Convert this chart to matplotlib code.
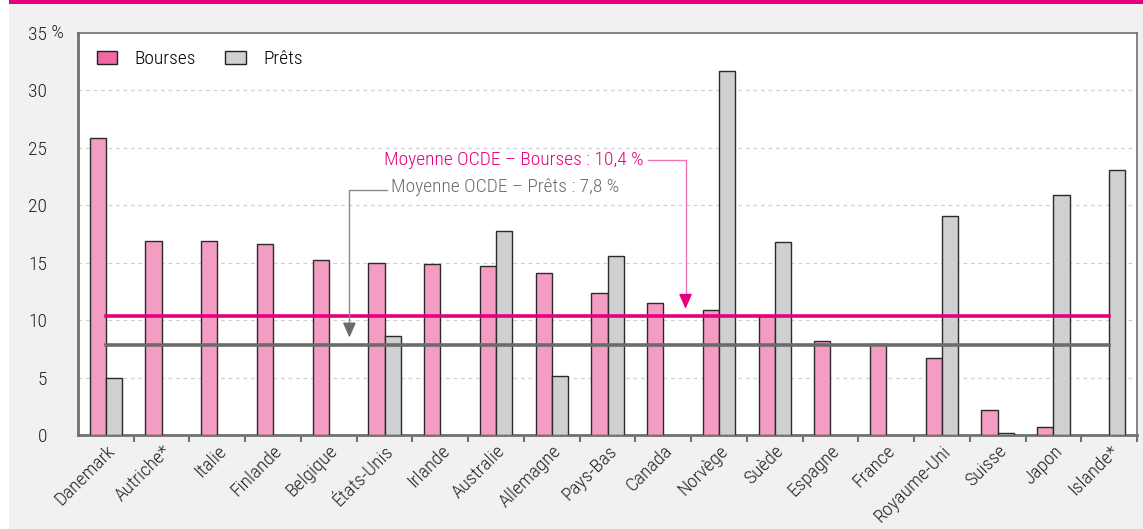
import numpy as np
import matplotlib.pyplot as plt
from matplotlib.patches import Rectangle, Patch

plt.rcParams['font.family'] = ['Roboto Condensed', 'Liberation Sans Narrow', 'Liberation Sans', 'DejaVu Sans']
plt.rcParams['font.weight'] = 'light'

pays = ['Danemark', 'Autriche*', 'Italie', 'Finlande', 'Belgique', 'États-Unis',
        'Irlande', 'Australie', 'Allemagne', 'Pays-Bas', 'Canada', 'Norvège',
        'Suède', 'Espagne', 'France', 'Royaume-Uni', 'Suisse', 'Japon', 'Islande*']
bourses = [25.9, 16.9, 16.9, 16.6, 15.2, 15.0, 14.9, 14.7, 14.1, 12.4, 11.5, 10.9,
           10.4, 8.2, 7.9, 6.7, 2.2, 0.7, np.nan]
prets = [5.0, np.nan, np.nan, np.nan, np.nan, 8.6, np.nan, 17.8, 5.1, 15.6, np.nan, 31.7,
         16.8, np.nan, np.nan, 19.1, 0.2, 20.9, 23.1]
moy_bourses = 10.4
moy_prets = 7.8

ROSE = '#f29dc1'
GRIS = '#cfd0d2'
MAGENTA = '#e5007d'
GRIS_FONCE = '#6b6b6b'
FS = 14

fig = plt.figure(figsize=(11.43, 5.29), dpi=100)
fig.patch.set_facecolor('white')
# fond gris + bandeau magenta
fig.add_artist(Rectangle((9 / 1143, 0), 1, 1, transform=fig.transFigure,
                         facecolor='#f1f1f1', edgecolor='none', zorder=-10))
fig.add_artist(Rectangle((9 / 1143, 1 - 4 / 529), 1, 4 / 529, transform=fig.transFigure,
                         facecolor=MAGENTA, edgecolor='none', zorder=-9))

ax = fig.add_axes([78 / 1143, 1 - 435 / 529, (1137 - 78) / 1143, (435 - 33) / 529])
ax.set_facecolor('white')

x = np.arange(len(pays))
w = 0.29
ax.bar(x - w / 2, bourses, w, color=ROSE, edgecolor='#2a2a2a', linewidth=1.0, zorder=3)
ax.bar(x + w / 2, prets, w, color=GRIS, edgecolor='#2a2a2a', linewidth=1.0, zorder=3)

# moyennes OCDE
ax.plot([x[0], x[-1]], [moy_prets, moy_prets], color=GRIS_FONCE, lw=2.6, zorder=4)
ax.plot([x[0], x[-1]], [moy_bourses, moy_bourses], color=MAGENTA, lw=2.6, zorder=5)

ax.plot([9.72, 10.4, 10.4], [23.9, 23.9, 11.6], color='#f373b0', lw=1.0, zorder=6)
ax.annotate('', xy=(10.4, 10.75), xytext=(10.4, 11.9),
            arrowprops=dict(arrowstyle='-|>,head_length=0.9,head_width=0.4',
                            color=MAGENTA, lw=1.0), zorder=6)
ax.text(9.64, 23.9, 'Moyenne OCDE – Bourses : 10,4 %', color=MAGENTA, fontsize=FS,
        ha='right', va='center', zorder=7)

ax.plot([5.05, 4.37, 4.37], [21.3, 21.3, 9.0], color='#8a8a8a', lw=1.0, zorder=6)
ax.annotate('', xy=(4.37, 8.25), xytext=(4.37, 9.4),
            arrowprops=dict(arrowstyle='-|>,head_length=0.9,head_width=0.4',
                            color=GRIS_FONCE, lw=1.0), zorder=6)
ax.text(5.12, 21.6, 'Moyenne OCDE – Prêts : 7,8 %', color=GRIS_FONCE, fontsize=FS,
        ha='left', va='center', zorder=7)

ax.set_xlim(-0.5, len(pays) - 0.5)
ax.set_ylim(0, 35)
ax.set_yticks(np.arange(0, 36, 5))
ax.set_yticklabels([str(v) for v in range(0, 36, 5)])
pad_pt = 31 * 0.72
ax.tick_params(axis='y', length=0, pad=pad_pt, labelsize=FS, colors='#222222')
ax.annotate(' %', xy=(0, 35), xycoords=('axes fraction', 'data'),
            xytext=(-pad_pt, 0), textcoords='offset points',
            ha='left', va='center', fontsize=FS, color='#222222')

ax.set_xticks(x + 0.5, minor=True)
ax.set_xticks(x)
ax.set_xticklabels(pays, rotation=45, ha='right', rotation_mode='anchor', fontsize=FS)
ax.tick_params(axis='x', which='major', length=0, pad=5, colors='#222222')
ax.tick_params(axis='x', which='minor', length=5, width=1.5, color='#707070')

for v in range(5, 35, 5):
    ax.axhline(v, color='#d0d0d0', lw=0.9, ls=(0, (3, 3)), zorder=1)

for s in ['left', 'bottom']:
    ax.spines[s].set_color('#707070')
    ax.spines[s].set_linewidth(2)
for s in ['top', 'right']:
    ax.spines[s].set_color('#707070')
    ax.spines[s].set_linewidth(1.2)

handles = [Patch(facecolor='#ef6aa4', edgecolor='#222222', lw=1.0, label='Bourses'),
           Patch(facecolor=GRIS, edgecolor='#222222', lw=1.0, label='Prêts')]
ax.legend(handles=handles, loc='upper left', ncol=2, frameon=False, fontsize=FS,
          handlelength=1.05, handleheight=0.6, handletextpad=0.9, columnspacing=1.5,
          bbox_to_anchor=(0.001, 1.0))

fig.savefig('out.png', dpi=100, facecolor=fig.get_facecolor())
